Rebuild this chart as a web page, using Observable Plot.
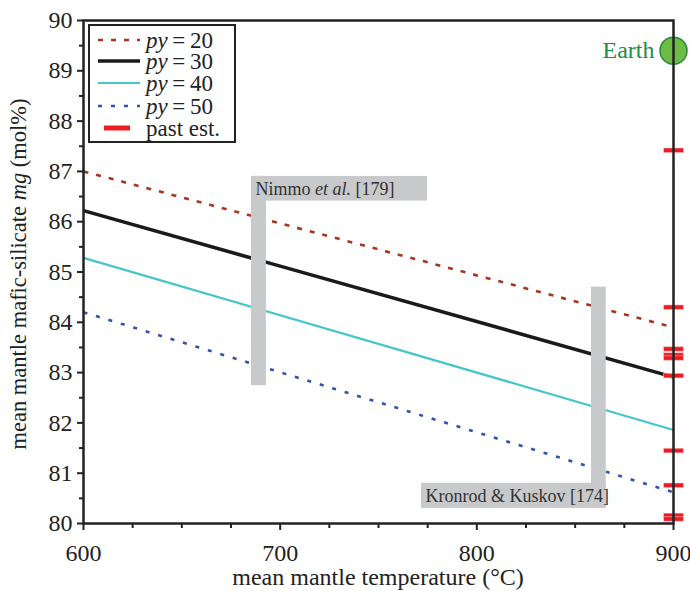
<!DOCTYPE html>
<html>
<head>
<meta charset="utf-8">
<script src="https://cdn.jsdelivr.net/npm/d3@7"></script>
<script src="https://cdn.jsdelivr.net/npm/@observablehq/plot@0.6"></script>
<style>
  html, body { margin: 0; padding: 0; background: #fff; }
  #chart { position: relative; width: 690px; height: 591px; }
</style>
</head>
<body>
<div id="chart"></div>
<script>
// ---- data ----
const temps = [600, 900];                 // mean mantle temperature (°C)
const py20 = [87.00, 83.90];
const py30 = [86.22, 82.91];
const py40 = [85.28, 81.86];
const py50 = [84.20, 80.62];
const pyLabels = ["20", "30", "40", "50"];

const pastEstTemp = 900;
const pastEst = [87.42, 84.30, 83.47, 83.35, 83.29, 82.94, 81.45, 80.76, 80.16, 80.09];

const earthTemp = 900;
const earthMg = 89.40;

const boxNames = ["Nimmo et al. [179]", "Kronrod & Kuskov [174]"];
// vertical bars: x1, x2, y1, y2
const barX1 = [685.4, 858.3];
const barX2 = [693.0, 865.8];
const barY1 = [82.74, 80.30];
const barY2 = [86.90, 84.70];
// label boxes
const labX1 = [685.4, 771.9];
const labX2 = [774.9, 865.8];
const labY1 = [86.41, 80.30];
const labY2 = [86.90, 80.80];

const xTicks = [600, 700, 800, 900];
const xMinor = [625, 650, 675, 725, 750, 775, 825, 850, 875];
const yTicks = [80, 81, 82, 83, 84, 85, 86, 87, 88, 89, 90];
const yMinor = [80.5, 81.5, 82.5, 83.5, 84.5, 85.5, 86.5, 87.5, 88.5, 89.5];

// ---- tables ----
const seriesVals = [py20, py30, py40, py50];
const lineData = pyLabels.map((p, k) => temps.map((t, i) => ({t, mg: seriesVals[k][i], py: p})));
const estData = pastEst.map(v => ({t: pastEstTemp, mg: v}));
const bars = boxNames.map((n, i) => ({x1: barX1[i], x2: barX2[i], y1: barY1[i], y2: barY2[i]}));
const labs = boxNames.map((n, i) => ({name: n, x1: labX1[i], x2: labX2[i], y1: labY1[i], y2: labY2[i]}));

// styles
const styles = {
  "20": {stroke: "#a8351f", strokeWidth: 2.6, strokeDasharray: "5,8"},
  "30": {stroke: "#1a1a1a", strokeWidth: 3.6, strokeDasharray: null},
  "40": {stroke: "#45c6c9", strokeWidth: 2.2, strokeDasharray: null},
  "50": {stroke: "#3352ae", strokeWidth: 2.6, strokeDasharray: "4,9"}
};
const RED = "#ec1c24";
const GREY = "#c8c9cb";

const barSymbol = {
  draw(context) { context.rect(-10, -2.3, 20, 4.6); }
};

const plot = Plot.plot({
  width: 690,
  height: 591,
  marginLeft: 83,
  marginRight: 17,
  marginTop: 20,
  marginBottom: 68,
  style: {fontFamily: "'Liberation Serif', serif", fontSize: "24px", color: "#222", background: "white", overflow: "visible"},
  x: {domain: [600, 900]},
  y: {domain: [80, 90]},
  marks: [
    ...pyLabels.map((p, k) => Plot.line(lineData[k], {x: "t", y: "mg", ...styles[p], strokeLinecap: "butt"})),
    Plot.rect(bars, {x1: "x1", x2: "x2", y1: "y1", y2: "y2", fill: GREY}),
    Plot.rect(labs, {x1: "x1", x2: "x2", y1: "y1", y2: "y2", fill: GREY}),
    Plot.text(labs, {x: "x1", y: d => (d.y1 + d.y2) / 2, text: "name", textAnchor: "start", dx: 4, fontSize: 18, fill: "#333"}),
    Plot.dot(estData, {x: "t", y: "mg", symbol: barSymbol, r: 5, fill: RED, stroke: "#ffdada", strokeWidth: 0.5}),
    Plot.dot([{t: earthTemp, mg: earthMg}], {x: "t", y: "mg", r: 13.5, fill: "#6cbd45", stroke: "#2b8a3e", strokeWidth: 1.5}),
    Plot.text([{t: earthTemp, mg: earthMg}], {x: "t", y: "mg", text: () => "Earth", textAnchor: "end", dx: -19, fontSize: 24, fill: "#1e8c46"}),
    Plot.axisX({ticks: xTicks, tickSize: 7, tickPadding: 13, tickFormat: d => String(d), label: null, strokeWidth: 2, fontSize: 24}),
    Plot.axisX({ticks: xMinor, tickSize: 5, tickFormat: () => "", label: null, strokeWidth: 2}),
    Plot.axisY({ticks: yTicks, tickSize: 6, tickPadding: 5, tickFormat: d => String(d), label: null, strokeWidth: 2, fontSize: 24}),
    Plot.axisY({ticks: yMinor, tickSize: 4, tickFormat: () => "", label: null, strokeWidth: 2}),
    Plot.frame({stroke: "#222", strokeWidth: 2.5})
  ]
});

document.getElementById("chart").appendChild(plot);

// italic "et al."
plot.querySelectorAll("text").forEach(t => {
  const s = t.textContent;
  if (s.includes("et al.")) {
    const [a, b] = s.split("et al.");
    t.textContent = "";
    const sel = d3.select(t);
    sel.append("tspan").text(a);
    sel.append("tspan").attr("font-style", "italic").text("et al.");
    sel.append("tspan").text(b);
  }
});

const svg = d3.select(plot);
const serif = "'Liberation Serif', serif";

// axis labels
const yl = svg.append("text")
  .attr("transform", "translate(26,274) rotate(-90)")
  .attr("text-anchor", "middle")
  .attr("font-family", serif).attr("font-size", 22.5).attr("fill", "#222");
yl.append("tspan").text("mean mantle mafic-silicate ");
yl.append("tspan").attr("font-style", "italic").text("mg");
yl.append("tspan").text(" (mol%)");

svg.append("text")
  .attr("x", 378).attr("y", 585)
  .attr("text-anchor", "middle")
  .attr("font-family", serif).attr("font-size", 24).attr("fill", "#222")
  .text("mean mantle temperature (°C)");

// legend
const lg = svg.append("g").attr("font-family", serif).attr("font-size", 23).attr("fill", "#222").attr("text-anchor", "start");
lg.append("rect").attr("x", 89).attr("y", 25).attr("width", 146).attr("height", 117)
  .attr("fill", "white").attr("stroke", "#222").attr("stroke-width", 2);
const rowY = [40, 61, 83, 106, 128];
pyLabels.forEach((p, i) => {
  const st = styles[p];
  lg.append("line").attr("x1", 98).attr("x2", 140).attr("y1", rowY[i]).attr("y2", rowY[i])
    .attr("stroke", st.stroke).attr("stroke-width", st.strokeWidth)
    .attr("stroke-dasharray", st.strokeDasharray);
  const tx = lg.append("text").attr("x", 146).attr("y", rowY[i]).attr("dy", "0.35em").attr("text-anchor", "start");
  tx.append("tspan").attr("font-style", "italic").text("py");
  tx.append("tspan").text("\u2009=\u2009" + p);
});
lg.append("rect").attr("x", 104).attr("y", rowY[4] - 2.5).attr("width", 26).attr("height", 5).attr("fill", RED);
lg.append("text").attr("x", 146).attr("y", rowY[4]).attr("dy", "0.35em").attr("text-anchor", "start").text("past est.");
</script>
</body>
</html>
